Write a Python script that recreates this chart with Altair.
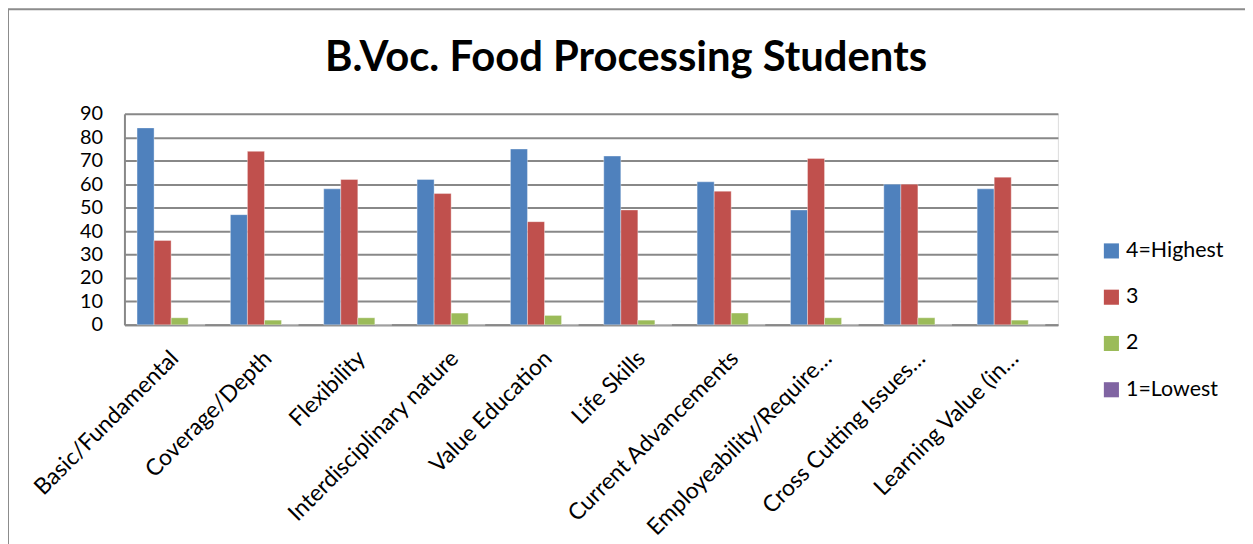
import altair as alt
import pandas as pd

categories = [
    "Basic/Fundamental",
    "Coverage/Depth",
    "Flexibility",
    "Interdisciplinary nature",
    "Value Education",
    "Life Skills",
    "Current Advancements",
    "Employeability/Require…",
    "Cross Cutting Issues…",
    "Learning Value (in…",
]
series = ["4=Highest", "3", "2", "1=Lowest"]
highest = [84, 47, 58, 62, 75, 72, 61, 49, 60, 58]
three = [36, 74, 62, 56, 44, 49, 57, 71, 60, 63]
two = [3, 2, 3, 5, 4, 2, 5, 3, 3, 2]
lowest = [0, 0, 0, 0, 0, 0, 0, 0, 0, 0]
colors = ["#4F81BD", "#C0504D", "#9BBB59", "#8064A2"]
y_ticks = [0, 10, 20, 30, 40, 50, 60, 70, 80, 90]
title_text = "B.Voc. Food Processing Students"

rows = []
for vals, s in zip([highest, three, two, lowest], series):
    for c, v in zip(categories, vals):
        rows.append({"Category": c, "Series": s, "Value": v})
df = pd.DataFrame(rows)

FONT = "Lato"
W, H = 938, 212
PL, PT, PR, PB = 117, 105, 188, 243

bars = alt.Chart(df).mark_bar(stroke="white", strokeWidth=0.6, strokeOpacity=0.6).encode(
    x=alt.X("Category:N", sort=categories, title=None,
            scale=alt.Scale(paddingInner=0.27, paddingOuter=0.135),
            axis=alt.Axis(labelAngle=-45, labelAlign="right", labelBaseline="top",
                          labelFontSize=23, labelFont=FONT, labelColor="#000",
                          ticks=False, labelPadding=22, labelOffset=-4,
                          domainColor="#888",
                          domainWidth=2, labelLimit=400, grid=False)),
    xOffset=alt.XOffset("Series:N", sort=series),
    y=alt.Y("Value:Q", title=None,
            scale=alt.Scale(domain=[0, 90], nice=False),
            axis=alt.Axis(values=y_ticks, labelFontSize=20, labelFont=FONT,
                          labelColor="#000", ticks=False, labelPadding=22,
                          gridColor="#888", gridWidth=2, domainColor="#888",
                          domainWidth=2)),
    color=alt.Color("Series:N", sort=series,
                    scale=alt.Scale(domain=series, range=colors),
                    legend=alt.Legend(title=None, orient="none", legendX=981,
                                      legendY=127, symbolType="square",
                                      symbolSize=230, symbolStrokeWidth=0,
                                      labelFontSize=21.5, labelFont=FONT,
                                      labelColor="#000", rowPadding=23.5,
                                      symbolOpacity=1)),
)

title = alt.Chart(pd.DataFrame({"t": [title_text]})).mark_text(
    font=FONT, fontSize=42, fontWeight="bold", color="#000",
    align="center", baseline="alphabetic"
).encode(text="t:N", x=alt.value(W / 2 + 35), y=alt.value(-43))

frame = alt.Chart(pd.DataFrame({"f": [0]})).mark_rect(
    fill=None, stroke="#8c8c8c", strokeWidth=2
).encode(
    x=alt.value(-PL), x2=alt.value(W + PR + 1),
    y=alt.value(-PT), y2=alt.value(H + PB + 20),
)

chart = alt.layer(bars, title, frame).properties(
    width=W, height=H,
    padding={"left": PL, "top": PT, "right": PR, "bottom": PB},
    autosize=alt.AutoSizeParams(type="none"),
).configure_view(stroke=None).configure(background="white")

chart.save("out.html", embed_options={"renderer": "svg", "actions": False})
